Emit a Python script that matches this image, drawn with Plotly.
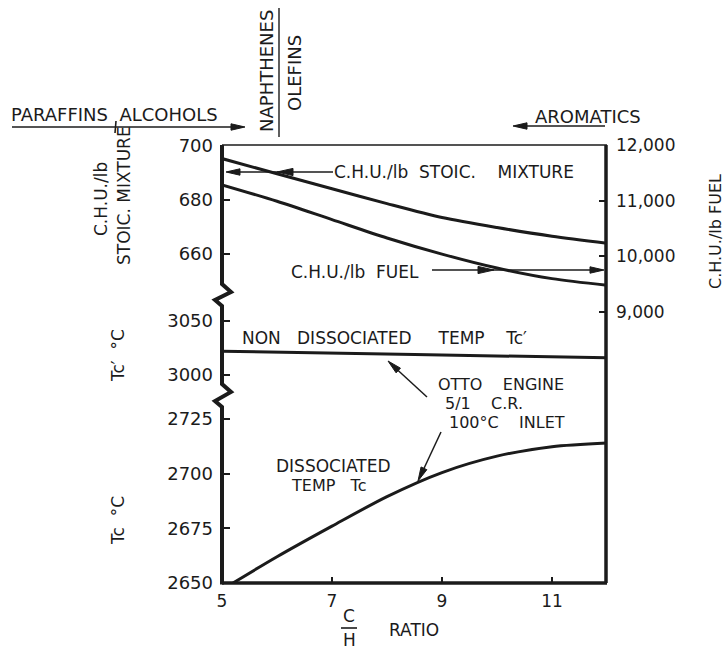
import plotly.graph_objects as go

# ---------------- data ----------------
# C/H ratio samples and the four curves
ch_stoic = [5, 6, 7, 8, 9, 10, 11, 12]
chu_stoic_mixture = [695.2, 689.6, 684.1, 678.6, 673.5, 669.8, 666.6, 664.0]   # C.H.U./lb stoic. mixture

ch_fuel = [5, 6, 7, 8, 9, 10, 11, 12]
chu_fuel = [11285, 10990, 10660, 10330, 10040, 9790, 9600, 9480]                # C.H.U./lb fuel

ch_nondiss = [5, 8.5, 12]
tc_nondiss = [3022, 3019, 3016]                                                 # Tc' (non dissociated)

ch_diss = [5.2, 6, 7, 8, 9, 10, 11, 12]
tc_diss = [2650, 2662, 2676, 2689.5, 2700.5, 2708, 2712.3, 2714]               # Tc (dissociated)

x_ticks = [5, 7, 9, 11]
tc_ticks = [2650, 2675, 2700, 2725]
tcp_ticks = [3000, 3050]
stoic_ticks = [660, 680, 700]
fuel_ticks = [9000, 10000, 11000, 12000]
fuel_tick_text = ["9,000", "10,000", "11,000", "12,000"]

# ---------------- styling helpers ----------------
INK = "#1b1b1b"
FONT = "DejaVu Sans"
W, H = 725, 651
L, R, T, B = 222, 607, 145, 583          # plot box edges in page pixels


def px(x):
    return (x - L) / (R - L)


def py(y):
    return (B - y) / (B - T)


fig = go.Figure()

curve = dict(color=INK, width=3, shape="spline", smoothing=0.8)
fig.add_trace(go.Scatter(x=ch_stoic, y=chu_stoic_mixture, mode="lines", line=curve,
                         xaxis="x", yaxis="y3", hoverinfo="skip"))
fig.add_trace(go.Scatter(x=ch_fuel, y=chu_fuel, mode="lines", line=curve,
                         xaxis="x", yaxis="y4", hoverinfo="skip"))
fig.add_trace(go.Scatter(x=ch_nondiss, y=tc_nondiss, mode="lines", line=curve,
                         xaxis="x", yaxis="y2", hoverinfo="skip"))
fig.add_trace(go.Scatter(x=ch_diss, y=tc_diss, mode="lines", line=curve,
                         xaxis="x", yaxis="y", hoverinfo="skip"))

axis_common = dict(showgrid=False, zeroline=False, showline=False, ticks="inside",
                   tickwidth=2, tickcolor=INK, fixedrange=True)

fig.update_layout(
    width=W, height=H,
    margin=dict(l=L, r=W - R, t=T, b=H - B, pad=0),
    paper_bgcolor="white", plot_bgcolor="rgba(0,0,0,0)",
    showlegend=False,
    font=dict(family=FONT, color=INK),
    xaxis=dict(range=[5, 12], tickvals=x_ticks, anchor="y", domain=[0, 1],
               tickfont=dict(size=17), ticklabelstandoff=6, ticklen=6, **axis_common),
    yaxis=dict(range=[2650, 2735.5], domain=[0, py(396)], tickvals=tc_ticks, anchor="x",
               tickfont=dict(size=18), ticklabelstandoff=8, ticklen=8, **axis_common),
    yaxis2=dict(range=[2980.6, 3074.1], domain=[py(396), py(295)], tickvals=tcp_ticks, anchor="x",
                tickfont=dict(size=18), ticklabelstandoff=8, ticklen=8, **axis_common),
    yaxis3=dict(range=[644.95, 700.2], domain=[py(295), 1], tickvals=stoic_ticks, anchor="x",
                tickfont=dict(size=18), ticklabelstandoff=8, ticklen=8, **axis_common),
    yaxis4=dict(range=[8766.6, 12001], domain=[py(325), 1], tickvals=fuel_ticks,
                ticktext=fuel_tick_text, anchor="x", side="right",
                tickfont=dict(size=17), ticklabelstandoff=8, ticklen=8, **axis_common),
)

shapes = []


def seg(x0, y0, x1, y1, width=1.6):
    shapes.append(dict(type="line", xref="paper", yref="paper",
                       x0=px(x0), y0=py(y0), x1=px(x1), y1=py(y1),
                       line=dict(color=INK, width=width), layer="above"))


def path(points, width):
    d = "M " + " L ".join(f"{px(a):.5f},{py(b):.5f}" for a, b in points)
    shapes.append(dict(type="path", xref="paper", yref="paper", path=d,
                       line=dict(color=INK, width=width), layer="above"))


def head(tip, tail, length=14, half=3.2):
    tx, ty = tip
    dx, dy = tail[0] - tx, tail[1] - ty
    n = (dx * dx + dy * dy) ** 0.5
    ux, uy = dx / n, dy / n
    bx, by = tx + ux * length, ty + uy * length
    p1 = (bx - uy * half, by + ux * half)
    p2 = (bx + uy * half, by - ux * half)
    d = "M {} Z".format(" L ".join(f"{px(a):.5f},{py(b):.5f}" for a, b in [tip, p1, p2]))
    shapes.append(dict(type="path", xref="paper", yref="paper", path=d,
                       fillcolor=INK, line=dict(color=INK, width=1), layer="above"))


# frame with broken left axis
seg(L, T, R, T, 1.5)
seg(R - 1, T, R - 1, B, 3.5)
seg(L, B, R, B, 3.5)
path([(L, T), (L, 284), (231, 292), (215, 300), (L, 306), (L, 384), (231, 392),
      (215, 401), (L, 407), (L, B + 1.5)], 4)

# group arrows above the frame
seg(12, 127, 243, 127, 1.6)
head((245, 127), (12, 127))
seg(116, 121, 115, 133, 1.6)
seg(515, 126, 605, 126, 1.6)
head((513, 126), (605, 126))
seg(279, 8, 279, 137, 1.4)

# pointer lines inside the plot
seg(228, 172, 333, 172, 1.5)
head((226, 172), (333, 172))
head((277, 172), (333, 172), length=16, half=3.6)
seg(432, 270, 602, 270, 1.5)
head((604, 270), (432, 270))
head((494, 270), (432, 270), length=16, half=3.6)
seg(427, 397, 390, 363, 1.5)
head((388, 361), (427, 397))
seg(441, 432, 419, 479, 1.5)
head((418, 481), (441, 432))

# C/H fraction bar
seg(341, 628, 357, 628, 1.6)

fig.update_layout(shapes=shapes)

NB = "\u00a0"
annotations = []


def label(text, x, y, size=17, angle=0, xanchor="center"):
    annotations.append(dict(text=text, x=px(x), y=py(y), xref="paper", yref="paper",
                            showarrow=False, textangle=angle, xanchor=xanchor, yanchor="middle",
                            borderpad=0,
                            font=dict(family=FONT, size=size, color=INK)))


def gap(n):
    return NB * n


label(f"PARAFFINS{gap(2)}ALCOHOLS", 10, 115, 18, xanchor="left")
label("NAPHTHENES", 266, 71, 18, -90)
label("OLEFINS", 294, 73, 18, -90)
label("AROMATICS", 588, 117, 18)

label("C.H.U./lb", 101, 199, 17, -90)
label("STOIC. MIXTURE", 124, 196, 17, -90)
label(f"Tc′{gap(2)}°C", 118, 356, 17, -90)
label(f"Tc{gap(2)}°C", 118, 521, 17, -90)
label(f"C.H.U./lb{NB}FUEL", 715, 232, 16, -90)

label(f"C.H.U./lb{gap(2)}STOIC.{gap(4)}MIXTURE", 333, 172, 17, xanchor="left")
label(f"C.H.U./lb{gap(2)}FUEL", 290, 272, 17, xanchor="left")
label(f"NON{gap(3)}DISSOCIATED{gap(5)}TEMP{gap(4)}Tc′", 241, 338, 17, xanchor="left")
label(f"OTTO{gap(4)}ENGINE", 501, 384, 16)
label(f"5/1{gap(4)}C.R.", 484, 403, 16)
label(f"100°C{gap(4)}INLET", 507, 422, 16)
label("DISSOCIATED", 333, 466, 17)
label(f"TEMP{gap(3)}Tc", 328, 485, 16)

label("C", 349, 616, 17)
label("H", 349, 640, 17)
label("RATIO", 414, 630, 17)

fig.update_layout(annotations=annotations)

fig.write_html("out.html")
